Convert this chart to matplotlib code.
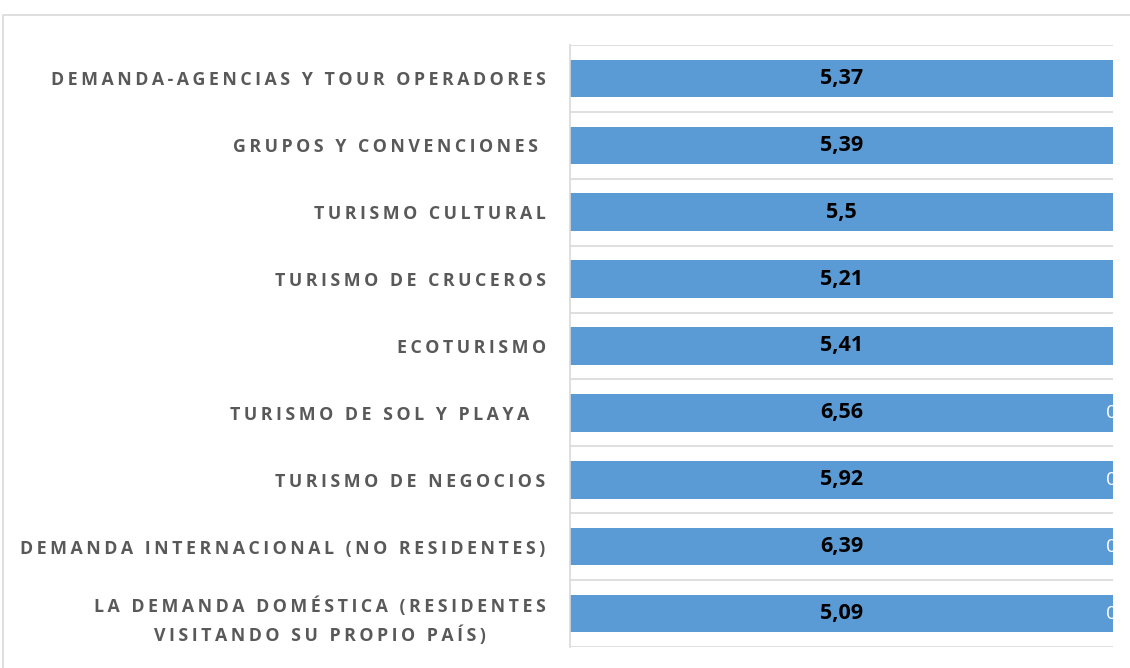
import matplotlib
matplotlib.use("Agg")
import matplotlib.pyplot as plt
from matplotlib.patches import Rectangle
from matplotlib.transforms import ScaledTranslation

# datos (de arriba hacia abajo)
categorias = [
    "DEMANDA-AGENCIAS Y TOUR OPERADORES",
    "GRUPOS Y CONVENCIONES ",
    "TURISMO CULTURAL",
    "TURISMO DE CRUCEROS",
    "ECOTURISMO",
    "TURISMO DE SOL Y PLAYA  ",
    "TURISMO DE NEGOCIOS",
    "DEMANDA INTERNACIONAL (NO RESIDENTES)",
    "LA DEMANDA DOMÉSTICA (RESIDENTES\nVISITANDO SU PROPIO PAÍS)",
]
valores = [5.37, 5.39, 5.5, 5.21, 5.41, 6.56, 5.92, 6.39, 5.09]
serie_cero = [None, None, None, None, None, 0, 0, 0, 0]

azul = "#5b9bd5"
gris_txt = "#595959"
gris_lin = "#d9d9d9"
xmax = 5.0   # el grafico original esta recortado a la derecha


def espaciar(s):
    # espaciado entre letras como en el grafico original
    return "\n".join("\u2009".join(linea) for linea in s.split("\n"))


fig = plt.figure(figsize=(11.3, 6.68), dpi=100)
ax = fig.add_axes([570 / 1130, 1 - 647 / 668, (1113 - 570) / 1130, (647 - 45) / 668])

y = list(range(len(categorias)))
ax.barh(y, valores, height=0.56, color=azul, zorder=2)
ax.set_xlim(0, xmax)
ax.set_ylim(len(categorias) - 0.5, -0.5)

for yi, v in zip(y, valores):
    ax.text(xmax / 2, yi, f"{v:.2f}".rstrip("0").replace(".", ","),
            ha="center", va="center", fontsize=15.5, fontweight="bold",
            family=["Open Sans", "DejaVu Sans"], color="black", zorder=3)

desplaz = ScaledTranslation(-7 / 100, 0, fig.dpi_scale_trans)
for yi, c in zip(y, serie_cero):
    if c is None:
        continue
    ax.text(xmax, yi, str(c), ha="left", va="center", fontsize=14,
            family=["Open Sans", "DejaVu Sans"], color="white",
            transform=ax.transData + desplaz, clip_on=True, zorder=3)

ax.set_yticks(y)
ax.set_yticklabels([espaciar(c) for c in categorias], fontsize=12.8,
                   fontweight="bold", color=gris_txt,
                   family=["Open Sans", "DejaVu Sans"],
                   multialignment="center", linespacing=1.65)
ax.tick_params(axis="y", length=0, pad=17.5)
ax.set_xticks([])

ax.set_yticks([i - 0.5 for i in range(len(categorias) + 1)], minor=True)
ax.tick_params(axis="y", which="minor", length=0)
ax.grid(which="minor", axis="y", color=gris_lin, lw=1.2, zorder=1)

for lado in ["top", "right", "bottom"]:
    ax.spines[lado].set_visible(False)
ax.spines["left"].set_color(gris_lin)
ax.spines["left"].set_linewidth(1.2)

# borde del area del grafico (recortado)
fig.patches.append(Rectangle((3 / 1130, -0.1), 1.2, 1 - 15 / 668 + 0.1,
                             transform=fig.transFigure, fill=False,
                             edgecolor=gris_lin, lw=1.2))

fig.savefig("out.png", dpi=100)
